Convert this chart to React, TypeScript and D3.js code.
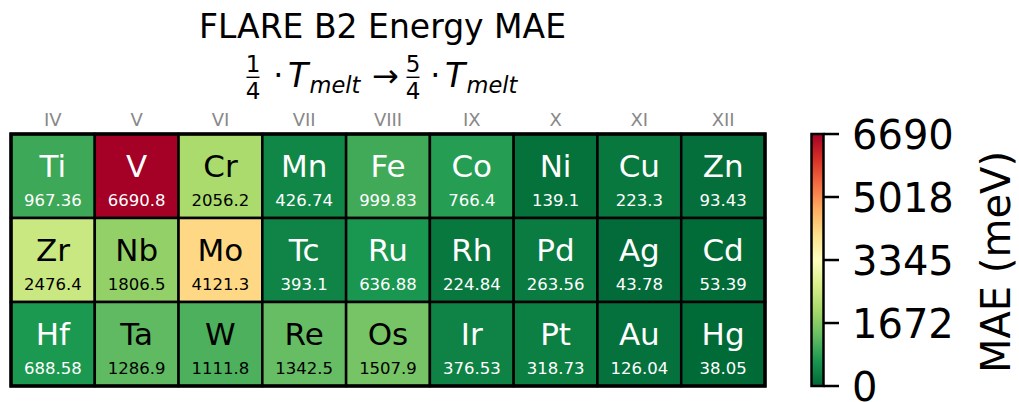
import React from "react";
import * as d3 from "d3";

const groups = ["IV", "V", "VI", "VII", "VIII", "IX", "X", "XI", "XII"];
const row1Symbols = ["Ti", "V", "Cr", "Mn", "Fe", "Co", "Ni", "Cu", "Zn"];
const row1Values = [967.36, 6690.8, 2056.2, 426.74, 999.83, 766.4, 139.1, 223.3, 93.43];
const row2Symbols = ["Zr", "Nb", "Mo", "Tc", "Ru", "Rh", "Pd", "Ag", "Cd"];
const row2Values = [2476.4, 1806.5, 4121.3, 393.1, 636.88, 224.84, 263.56, 43.78, 53.39];
const row3Symbols = ["Hf", "Ta", "W", "Re", "Os", "Ir", "Pt", "Au", "Hg"];
const row3Values = [688.58, 1286.9, 1111.8, 1342.5, 1507.9, 376.53, 318.73, 126.04, 38.05];
const valueLabels = [
  ["967.36", "6690.8", "2056.2", "426.74", "999.83", "766.4", "139.1", "223.3", "93.43"],
  ["2476.4", "1806.5", "4121.3", "393.1", "636.88", "224.84", "263.56", "43.78", "53.39"],
  ["688.58", "1286.9", "1111.8", "1342.5", "1507.9", "376.53", "318.73", "126.04", "38.05"],
];
const colorbarTicks = [0, 1672, 3345, 5018, 6690];
const colorbarTickLabels = ["0", "1672", "3345", "5018", "6690"];
const vMin = 0;
const vMax = 6690.8;

const FONT = "DejaVu Sans";

export default function App() {
  const rows = [
    { symbols: row1Symbols, values: row1Values },
    { symbols: row2Symbols, values: row2Values },
    { symbols: row3Symbols, values: row3Values },
  ];
  const colors = [...(d3.schemeRdYlGn[11] as string[])].reverse();
  const color = d3
    .scaleLinear<string>()
    .domain(colors.map((_, i) => vMin + ((vMax - vMin) * i) / 10))
    .range(colors)
    .interpolate(d3.interpolateRgb)
    .clamp(true);

  const x = d3.scaleBand<string>().domain(groups).range([11, 765]).padding(0);
  const y = d3.scaleBand<number>().domain([0, 1, 2]).range([134, 386]).padding(0);

  const cbX0 = 811.5;
  const cbW = 12;
  const cbY = d3.scaleLinear().domain([vMin, vMax]).range([386, 134]);

  const textColor = (c: string) => (d3.lab(c).l < 63.6 ? "#ffffff" : "#000000");

  // subtitle layout
  const f1 = 253;
  return (
    <svg width={1019} height={402} style={{ position: "absolute", left: 0, top: 0, background: "#fff" }}>
      <defs>
        <linearGradient id="cbgrad" x1="0" y1="1" x2="0" y2="0">
          {colors.map((c, i) => (
            <stop key={i} offset={`${i * 10}%`} stopColor={c} />
          ))}
        </linearGradient>
      </defs>
      <g fontFamily={FONT}>
        {/* Title */}
        <text x={382.5} y={38.3} fontSize={33} textAnchor="middle" fill="#000">
          FLARE B2 Energy MAE
        </text>
        {/* Subtitle math */}
        <g fill="#000">
          <text x={f1} y={71.7} fontSize={23} textAnchor="middle">1</text>
          <line x1={f1 - 6.5} x2={f1 + 6.5} y1={77.3} y2={77.3} stroke="#000" strokeWidth={1.4} />
          <text x={f1} y={99} fontSize={23} textAnchor="middle">4</text>
          <text x={f1 + 25} y={86} fontSize={32} textAnchor="middle">⋅</text>
          <text x={f1 + 35} y={87.3} fontSize={33} fontStyle="italic">T</text>
          <text x={f1 + 56.5} y={93.3} fontSize={22.5} fontStyle="italic">melt</text>
          <text x={f1 + 119} y={87.3} fontSize={32}>→</text>
          <text x={f1 + 160} y={71.7} fontSize={23} textAnchor="middle">5</text>
          <line x1={f1 + 153.5} x2={f1 + 166.5} y1={77.3} y2={77.3} stroke="#000" strokeWidth={1.4} />
          <text x={f1 + 160} y={99} fontSize={23} textAnchor="middle">4</text>
          <text x={f1 + 182} y={86} fontSize={32} textAnchor="middle">⋅</text>
          <text x={f1 + 192} y={87.3} fontSize={33} fontStyle="italic">T</text>
          <text x={f1 + 213.5} y={93.3} fontSize={22.5} fontStyle="italic">melt</text>
        </g>
        {/* Group labels */}
        {groups.map((g) => (
          <text
            key={g}
            x={(x(g) as number) + x.bandwidth() / 2}
            y={126}
            fontSize={18}
            fill="#888888"
            textAnchor="middle"
          >
            {g}
          </text>
        ))}
        {/* Cells */}
        {rows.map((r, ri) =>
          r.symbols.map((s, ci) => {
            const c = color(r.values[ci]);
            const cx = (x(groups[ci]) as number) + x.bandwidth() / 2;
            const cy = (y(ri) as number) + y.bandwidth() / 2;
            const tc = textColor(c);
            return (
              <g key={s}>
                <rect
                  x={x(groups[ci])}
                  y={y(ri)}
                  width={x.bandwidth()}
                  height={y.bandwidth()}
                  fill={c}
                  stroke="#000"
                  strokeWidth={2.5}
                />
                <text x={cx} y={cy + 1} fontSize={31} textAnchor="middle" fill={tc}>
                  {s}
                </text>
                <text x={cx} y={cy + 30} fontSize={16.5} textAnchor="middle" fill={tc}>
                  {valueLabels[ri][ci]}
                </text>
              </g>
            );
          })
        )}
        <rect x={11} y={134} width={754} height={252} fill="none" stroke="#000" strokeWidth={3.5} />
        {/* Colorbar */}
        <rect x={cbX0} y={cbY(vMax)} width={cbW} height={cbY(vMin) - cbY(vMax)} fill="url(#cbgrad)" stroke="#000" strokeWidth={2.5} />
        {colorbarTicks.map((t, i) => (
          <g key={t}>
            <line x1={cbX0 + cbW} x2={cbX0 + cbW + 15.5} y1={cbY(t)} y2={cbY(t)} stroke="#000" strokeWidth={2.5} />
            <text x={852} y={cbY(t) + 15} fontSize={40} fill="#000">
              {colorbarTickLabels[i]}
            </text>
          </g>
        ))}
        <text
          transform={`translate(1010, 262) rotate(-90)`}
          fontSize={40}
          textAnchor="middle"
          fill="#000"
        >
          MAE (meV)
        </text>
      </g>
    </svg>
  );
}
